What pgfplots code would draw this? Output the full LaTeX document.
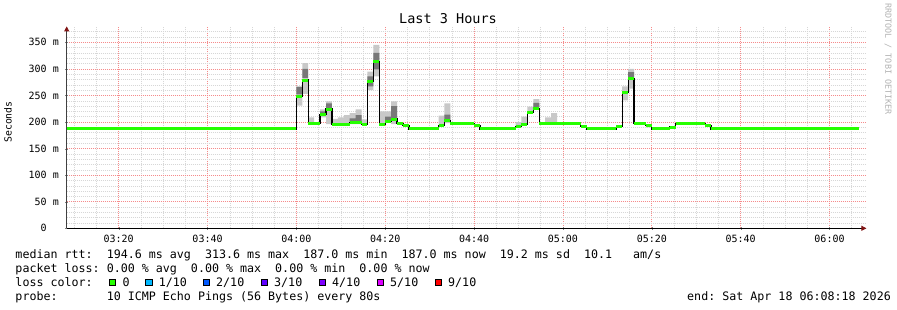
\documentclass[border=0pt]{standalone}
\usepackage{fontspec}
\usepackage{pgfplots}
\pgfplotsset{compat=1.18}
\usepackage{pgfplotstable}
\usetikzlibrary{arrows.meta}
\newfontfamily\mono{DejaVu Sans Mono}
\definecolor{lgreen}{HTML}{26FF00}
\definecolor{lone}{HTML}{00B8FF}
\definecolor{ltwo}{HTML}{0059FF}
\definecolor{lthree}{HTML}{5E00FF}
\definecolor{lfour}{HTML}{7E00FF}
\definecolor{lfive}{HTML}{DD00FF}
\definecolor{lnine}{HTML}{FF0000}
\definecolor{majgrid}{RGB}{245,140,140}
\definecolor{mingrid}{RGB}{215,215,215}
\definecolor{arrowred}{RGB}{128,20,20}
\definecolor{smokelight}{RGB}{200,200,200}
\definecolor{smokedark}{RGB}{120,120,120}
\newcommand\legfont{\mono\fontsize{11.66}{14}\selectfont}
\newcommand\tickfont{\mono\fontsize{10}{12}\selectfont}

\pgfplotstableread{
t rtt
8.3 187
60 248
61.333 279
62.667 197
65.333 214
66.667 224.5
68 196
72 198.6
74.667 196
76 277
77.333 313.6
78.667 196
80 201
81.333 205.6
82.667 196.7
84 193
85.333 187
92 194
93.333 202
94.667 197
100 193
101.333 187
109.333 191.7
110.667 196
112 218
113.333 226
114.667 196.7
124 192.4
125.333 187
132 191.7
133.333 255
134.667 282
136 196.7
138.667 193
140 187
144 190.5
145.333 196.7
152 193
153.333 187
186.667 187
}\median

\begin{document}
\frenchspacing
\begin{tikzpicture}[x=1pt,y=1pt]
\path[use as bounding box] (0,0) rectangle (897,310);
\begin{axis}[
  at={(66.7pt,81.7pt)}, anchor=south west,
  scale only axis, width=799.7pt, height=201.9pt,
  xmin=8.3, xmax=188.3, ymin=0, ymax=380,
  enlargelimits=false,
  axis x line=bottom, axis y line=left,
  x axis line style={black, line width=0.8pt, -{Triangle[length=5pt,width=5pt,color=arrowred]}},
  y axis line style={black!75, line width=0.8pt, -{Triangle[length=5pt,width=5pt,color=arrowred]}},
  xtick={20,40,...,180},
  xticklabels={03:20,03:40,04:00,04:20,04:40,05:00,05:20,05:40,06:00},
  minor xtick={10,15,25,30,35,45,50,55,65,70,75,85,90,95,105,110,115,125,130,135,145,150,155,165,170,175,185},
  ytick={0,50,...,350},
  yticklabels={0\hphantom{ m},50 m,100 m,150 m,200 m,250 m,300 m,350 m},
  minor ytick={10,20,30,40,60,70,80,90,110,120,130,140,160,170,180,190,210,220,230,240,260,270,280,290,310,320,330,340,360,370},
  xmajorgrids, ymajorgrids, xminorgrids, yminorgrids,
  every major grid/.style={draw=majgrid, line width=0.7pt, dash pattern=on 1pt off 1pt},
  every minor grid/.style={draw=mingrid, line width=0.5pt, dash pattern=on 1pt off 1pt},
  major tick length=3pt, minor tick length=0pt, tick align=center,
  xticklabel style={font=\tickfont, anchor=north, inner sep=0pt, yshift=-5pt},
  yticklabel style={font=\tickfont, anchor=east, inner sep=0pt, xshift=-6.2pt},
  unbounded coords=jump,
]
\addplot[draw=none, fill=smokelight] coordinates {
(60,231) (61.333,231) (61.333,267) (60,267) (60,nan)
(61.333,253) (62.667,253) (62.667,311) (61.333,311) (61.333,nan)
(62.667,196) (64,196) (64,209) (62.667,209) (62.667,nan)
(65.333,209) (66.667,209) (66.667,224) (65.333,224) (65.333,nan)
(66.667,196) (68,196) (68,239) (66.667,239) (66.667,nan)
(68,196) (69.333,196) (69.333,206) (68,206) (68,nan)
(69.333,196) (70.667,196) (70.667,209) (69.333,209) (69.333,nan)
(70.667,196) (72,196) (72,213) (70.667,213) (70.667,nan)
(72,196) (73.333,196) (73.333,217) (72,217) (72,nan)
(73.333,196) (74.667,196) (74.667,224) (73.333,224) (73.333,nan)
(74.667,196) (76,196) (76,205) (74.667,205) (74.667,nan)
(76,260) (77.333,260) (77.333,295) (76,295) (76,nan)
(77.333,286) (78.667,286) (78.667,345) (77.333,345) (77.333,nan)
(78.667,196) (80,196) (80,220) (78.667,220) (78.667,nan)
(80,200) (81.333,200) (81.333,220) (80,220) (80,nan)
(81.333,196) (82.667,196) (82.667,239) (81.333,239) (81.333,nan)
(82.667,196) (84,196) (84,200) (82.667,200) (82.667,nan)
(92,195) (93.333,195) (93.333,212) (92,212) (92,nan)
(93.333,198) (94.667,198) (94.667,235) (93.333,235) (93.333,nan)
(109.333,192) (110.667,192) (110.667,200) (109.333,200) (109.333,nan)
(110.667,196) (112,196) (112,210) (110.667,210) (110.667,nan)
(112,217) (113.333,217) (113.333,229) (112,229) (112,nan)
(113.333,226) (114.667,226) (114.667,243) (113.333,243) (113.333,nan)
(116,198) (117.333,198) (117.333,209) (116,209) (116,nan)
(117.333,198) (118.667,198) (118.667,217) (117.333,217) (117.333,nan)
(133.333,241) (134.667,241) (134.667,267) (133.333,267) (133.333,nan)
(134.667,263) (136,263) (136,300) (134.667,300) (134.667,nan)
(138.667,190) (140,190) (140,196) (138.667,196)
};
\addplot[draw=none, fill=smokedark] coordinates {
(60,252) (61.333,252) (61.333,266) (60,266) (60,nan)
(61.333,283) (62.667,283) (62.667,300) (61.333,300) (61.333,nan)
(65.333,214) (66.667,214) (66.667,220) (65.333,220) (65.333,nan)
(66.667,226) (68,226) (68,235) (66.667,235) (66.667,nan)
(72,201) (73.333,201) (73.333,207) (72,207) (72,nan)
(73.333,201) (74.667,201) (74.667,213) (73.333,213) (73.333,nan)
(76,267) (77.333,267) (77.333,286) (76,286) (76,nan)
(77.333,299) (78.667,299) (78.667,330) (77.333,330) (77.333,nan)
(80,202) (81.333,202) (81.333,210) (80,210) (80,nan)
(81.333,205) (82.667,205) (82.667,230) (81.333,230) (81.333,nan)
(93.333,204) (94.667,204) (94.667,214) (93.333,214) (93.333,nan)
(113.333,228) (114.667,228) (114.667,236) (113.333,236) (113.333,nan)
(134.667,282) (136,282) (136,294) (134.667,294)
};
\addplot[black, line width=1.2pt, const plot, mark=none] table[x=t,y=rtt]{\median};
\addplot[lgreen, line width=3pt, jump mark left, mark=none] table[x=t,y=rtt]{\median};
\end{axis}
\node[anchor=base, font=\mono\fontsize{13.5}{16}\selectfont, inner sep=0pt] at (448,286) {Last 3 Hours};
\node[rotate=90, font=\mono\fontsize{9.8}{11}\selectfont, inner sep=0pt] at (8,188) {Seconds};
\node[rotate=-90, font=\mono\fontsize{8.4}{10}\selectfont, text=black!30, inner sep=0pt] at (888,251) {RRDTOOL / TOBI OETIKER};
\node[anchor=base west, inner sep=0pt, font=\legfont] at (15.3,51.7) {median rtt:\ \ 194.6 ms avg\ \ 313.6 ms max\ \ 187.0 ms min\ \ 187.0 ms now\ \ 19.2 ms sd\ \ 10.1\ \ \ am/s};
\node[anchor=base west, inner sep=0pt, font=\legfont] at (15.3,37.5) {packet loss: 0.00 \% avg\ \ 0.00 \% max\ \ 0.00 \% min\ \ 0.00 \% now};
\node[anchor=base west, inner sep=0pt, font=\legfont] at (15.3,23.3) {loss color:};
\node[anchor=base west, inner sep=0pt, font=\legfont] at (15.3,9) {probe:\ \ \ \ \ \ \ 10 ICMP Echo Pings (56 Bytes) every 80s};
\node[anchor=base east, inner sep=0pt, font=\legfont] at (891,9) {end: Sat Apr 18 06:08:18 2026};
\foreach \bx/\col in {109/lgreen, 145.7/lone, 203/ltwo, 261/lthree, 319/lfour, 377/lfive, 435/lnine}{
  \filldraw[fill=\col, draw=black, line width=0.6pt] (\bx,24.3) rectangle ++(6.7,6.7);
}
\node[anchor=base west, inner sep=0pt, font=\legfont] at (122.3,23.3) {0};
\node[anchor=base west, inner sep=0pt, font=\legfont] at (158.7,23.3) {1/10};
\node[anchor=base west, inner sep=0pt, font=\legfont] at (216,23.3) {2/10};
\node[anchor=base west, inner sep=0pt, font=\legfont] at (274,23.3) {3/10};
\node[anchor=base west, inner sep=0pt, font=\legfont] at (332,23.3) {4/10};
\node[anchor=base west, inner sep=0pt, font=\legfont] at (390,23.3) {5/10};
\node[anchor=base west, inner sep=0pt, font=\legfont] at (448,23.3) {9/10};
\end{tikzpicture}
\end{document}
